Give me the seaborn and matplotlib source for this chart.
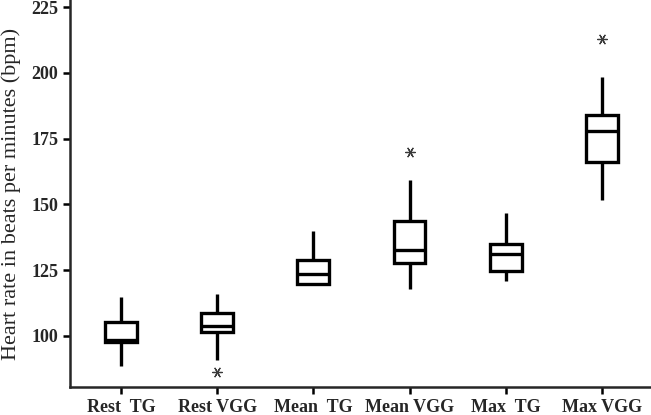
import numpy as np
import pandas as pd
import matplotlib
matplotlib.use('Agg')
import matplotlib.pyplot as plt
import seaborn as sns

# --- Data ---
groups = ['Rest  TG', 'Rest VGG', 'Mean  TG', 'Mean VGG', 'Max  TG', 'Max VGG']
whisker_low = [88.6, 90.9, 119.6, 117.9, 120.9, 151.5]
q1 = [97.8, 101.4, 119.6, 127.6, 124.8, 166.2]
median = [98.6, 103.8, 123.6, 132.7, 131.2, 177.9]
q3 = [105.4, 108.9, 128.9, 143.8, 135.0, 184.0]
whisker_high = [114.7, 115.8, 139.9, 159.3, 146.8, 198.5]
outlier_groups = ['Rest VGG', 'Mean VGG', 'Max VGG']
outlier_values = [86.4, 169.8, 212.7]
y_ticks = [100, 125, 150, 175, 200, 225]

# five-number summaries as long table (5 points -> exact quartiles)
rows = []
for i, g in enumerate(groups):
    for v in (whisker_low[i], q1[i], median[i], q3[i], whisker_high[i]):
        rows.append({'group': g, 'hr': v})
df = pd.DataFrame(rows)

# --- Style ---
sns.set_style('ticks')
plt.rcParams['font.family'] = ['Liberation Serif', 'DejaVu Serif']
plt.rcParams['axes.linewidth'] = 1.8

fig = plt.figure(figsize=(6.51, 4.15), dpi=100)
ax = fig.add_axes([0.1075, 0.0675, 0.8925, 0.9325])

sns.boxplot(data=df, x='group', y='hr', order=groups, whis=(0, 100),
            width=0.33, color='white', linecolor='black', linewidth=2.4,
            showcaps=False, fliersize=0, ax=ax)

sns.stripplot(x=outlier_groups, y=outlier_values, order=groups, jitter=False,
              marker=(6, 2, 90), size=7, linewidth=0.9, color='#3a3a3a',
              edgecolor='#3a3a3a', ax=ax)

ax.set_xlim(-0.53, 5.51)
ax.set_ylim(80.6, 227.7)
ax.set_yticks(y_ticks)
ax.set_xlabel('')
ax.set_ylabel('Heart rate in beats per minutes (bpm)', fontsize=16, labelpad=7)
ax.tick_params(axis='both', which='major', width=1.8, length=5, color='black',
               labelsize=13)
for lab in ax.get_xticklabels() + ax.get_yticklabels():
    lab.set_fontweight('bold')

sns.despine(ax=ax)
fig.savefig('out.png', dpi=100)
plt.close(fig)
